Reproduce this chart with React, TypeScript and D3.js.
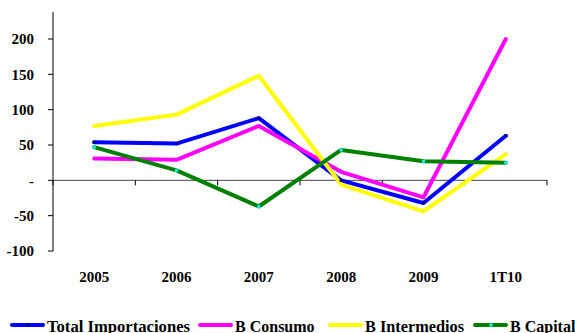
import React, { useEffect, useRef } from 'react';
import * as d3 from 'd3';

const categories = ['2005', '2006', '2007', '2008', '2009', '1T10'];
const totalImportaciones = [54, 52, 88, 0, -32, 63];
const bConsumo = [31, 29, 77, 12, -24, 200];
const bIntermedios = [77, 93, 148, -6, -44, 37];
const bCapital = [47, 14, -37, 43, 27, 25];
const yTicks = [-100, -50, 0, 50, 100, 150, 200];

const series = [
  { name: 'Total Importaciones', values: totalImportaciones, color: '#0000ff', marker: '#000080' },
  { name: 'B Consumo', values: bConsumo, color: '#ff00ff', marker: null },
  { name: 'B Intermedios', values: bIntermedios, color: '#ffff00', marker: null },
  { name: 'B Capital', values: bCapital, color: '#008000', marker: '#00ffff' },
];

const App: React.FC = () => {
  const ref = useRef<SVGSVGElement | null>(null);

  useEffect(() => {
    if (!ref.current) return;
    const svg = d3.select(ref.current);
    svg.selectAll('*').remove();

    const font = 'Liberation Serif';
    const left = 53;
    const right = 547;

    const x = d3.scaleBand().domain(categories).range([left, right]);
    const y = d3.scaleLinear().domain([-100, 200]).range([251, 39]);

    // y axis
    const ya = svg.append('g').attr('transform', `translate(${left},0)`);
    ya.append('line').attr('x1', 0).attr('x2', 0).attr('y1', 12).attr('y2', y(-100))
      .attr('stroke', '#000').attr('stroke-width', 1);
    yTicks.forEach((t) => {
      ya.append('line').attr('x1', -5).attr('x2', 0).attr('y1', y(t)).attr('y2', y(t))
        .attr('stroke', '#000');
      ya.append('text').attr('x', -19).attr('y', y(t)).attr('dy', '0.35em')
        .attr('text-anchor', 'end').style('font-family', font).attr('font-weight', 'bold')
        .attr('font-size', 15).attr('fill', '#000')
        .text(t === 0 ? '-' : String(t));
    });

    // x axis at zero
    const xa = svg.append('g').attr('transform', `translate(0,${y(0)})`);
    xa.append('line').attr('x1', left).attr('x2', right).attr('y1', 0).attr('y2', 0)
      .attr('stroke', '#444');
    const edges = categories.map((c) => x(c)!).concat([right]);
    edges.forEach((e) => {
      xa.append('line').attr('x1', e).attr('x2', e).attr('y1', 0).attr('y2', 5).attr('stroke', '#000');
    });
    categories.forEach((c) => {
      svg.append('text').attr('x', x(c)! + x.bandwidth() / 2).attr('y', 282)
        .attr('text-anchor', 'middle').style('font-family', font).attr('font-weight', 'bold')
        .attr('font-size', 15).attr('fill', '#000').text(c);
    });

    const line = d3.line<number>()
      .x((_, i) => x(categories[i])! + x.bandwidth() / 2)
      .y((d) => y(d));

    series.forEach((s) => {
      svg.append('path').datum(s.values).attr('d', line).attr('fill', 'none')
        .attr('stroke', s.color).attr('stroke-width', 4).attr('stroke-linejoin', 'round')
        .attr('stroke-linecap', 'round');
    });
    series.forEach((s) => {
      if (!s.marker) return;
      s.values.forEach((v, i) => {
        svg.append('rect').attr('x', x(categories[i])! + x.bandwidth() / 2 - 1.5)
          .attr('y', y(v) - 1.5).attr('width', 3).attr('height', 3).attr('fill', s.marker!);
      });
    });

    // legend (bottom, partly clipped as in the original)
    const legendX = [12, 200, 330, 475];
    const legendW = [143, 0, 99, 0];
    series.forEach((s, i) => {
      const g = svg.append('g').attr('transform', `translate(${legendX[i]},325)`);
      g.append('line').attr('x1', 0).attr('x2', 31).attr('y1', 0).attr('y2', 0)
        .attr('stroke', s.color).attr('stroke-width', 4).attr('stroke-linecap', 'round');
      if (s.marker) {
        g.append('rect').attr('x', 14.5).attr('y', -1.5).attr('width', 3).attr('height', 3).attr('fill', s.marker);
      }
      const t = g.append('text').attr('x', 35).attr('y', 7).style('font-family', font)
        .attr('font-weight', 'bold').attr('font-size', 16).attr('fill', '#000').text(s.name);
      if (legendW[i]) t.attr('textLength', legendW[i]).attr('lengthAdjust', 'spacingAndGlyphs');
    });
  }, []);

  return <svg ref={ref} width={575} height={333} style={{ display: 'block', position: 'absolute', left: 0, top: 0 }}></svg>;
};

export default App;
